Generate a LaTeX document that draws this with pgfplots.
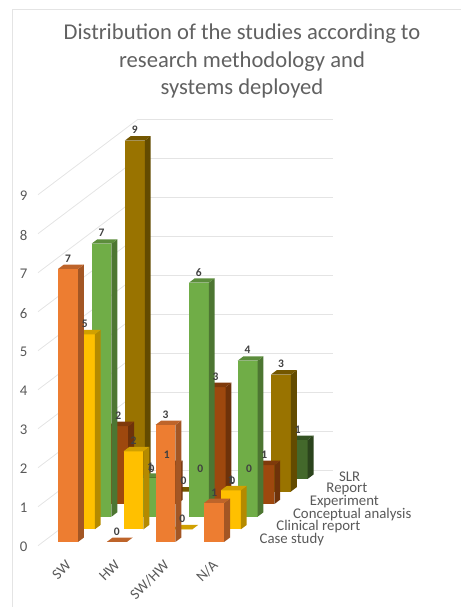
\documentclass[border=0pt]{standalone}
\usepackage{pgfplots}
\usepackage{pgfplotstable}
\usepackage{fontspec}
\setmainfont{Carlito}
\pgfplotsset{compat=1.18}

% Studies per system type (rows) and research methodology (columns)
\pgfplotstableread{
system SLR Report Experiment Conceptual Clinical Case
SW     0   9      2          7          5        7
HW     0   0      1          1          2        0
SWHW   0   0      3          6          0        3
NA     1   3      1          4          1        1
}\studies

% Front, side and top shades of each series
\definecolor{CaseF}{HTML}{ED7D31}\definecolor{CaseS}{HTML}{A35624}\definecolor{CaseT}{HTML}{BE642A}
\definecolor{ClinF}{HTML}{FFC000}\definecolor{ClinS}{HTML}{B48A00}\definecolor{ClinT}{HTML}{D1A000}
\definecolor{ConcF}{HTML}{70AD47}\definecolor{ConcS}{HTML}{4D7632}\definecolor{ConcT}{HTML}{5C8D3C}
\definecolor{ExpeF}{HTML}{9E480E}\definecolor{ExpeS}{HTML}{6E320A}\definecolor{ExpeT}{HTML}{7F3A0B}
\definecolor{RepoF}{HTML}{997300}\definecolor{RepoS}{HTML}{634B00}\definecolor{RepoT}{HTML}{745700}
\definecolor{SlrF}{HTML}{43682B}\definecolor{SlrS}{HTML}{2B431C}\definecolor{SlrT}{HTML}{345222}
\definecolor{labelgray}{HTML}{595959}
\definecolor{gridgray}{HTML}{E4E4E4}

% One cuboid: category index, depth row, table column, colour prefix
\newcommand{\cuboid}[4]{%
  \pgfplotstablegetelem{#1}{#3}\of\studies
  \let\val\pgfplotsretval
  \pgfmathsetmacro\xa{#1+0.31}\pgfmathsetmacro\xb{#1+0.72}%
  \pgfmathsetmacro\ya{#2+0.30}\pgfmathsetmacro\yb{#2+0.65}%
  \addplot3[draw=none,fill=#4F,mark=none,forget plot] coordinates
    {(\xa,\ya,0) (\xb,\ya,0) (\xb,\ya,\val) (\xa,\ya,\val)} --cycle;
  \addplot3[draw=none,fill=#4S,mark=none,forget plot] coordinates
    {(\xb,\ya,0) (\xb,\yb,0) (\xb,\yb,\val) (\xb,\ya,\val)} --cycle;
  \addplot3[draw=none,fill=#4T,mark=none,forget plot] coordinates
    {(\xa,\ya,\val) (\xb,\ya,\val) (\xb,\yb,\val) (\xa,\yb,\val)} --cycle;
}
% All four columns of a series
\newcommand{\series}[3]{%
  \cuboid{0}{#1}{#2}{#3}\cuboid{1}{#1}{#2}{#3}\cuboid{2}{#1}{#2}{#3}\cuboid{3}{#1}{#2}{#3}%
}
% Value labels of a series
\newcommand{\serieslabels}[2]{%
  \addplot3[draw=none,mark=none,forget plot,point meta=explicit,
    nodes near coords={\pgfmathprintnumber[assume math mode=true]{\pgfplotspointmeta}},
    every node near coord/.append style={anchor=center,yshift=10.5pt,inner sep=0pt,
      font=\fontsize{11.5}{12}\selectfont\bfseries,text=black!75}]
    table[x expr=\coordindex+0.515,y expr=#1+0.30,z=#2,meta=#2] {\studies};
}

\begin{document}
\begin{tikzpicture}
\path[use as bounding box] (0,0) rectangle (461pt,607pt);
\draw[gridgray,line width=0.8pt] (12pt,0) -- (12pt,598pt) -- (461pt,598pt);
\node[align=center,text=black!62,font=\fontsize{22.6}{27.7}\selectfont] at (242pt,546pt)
  {Distribution of the studies according to\\research methodology and\\systems deployed};
\begin{axis}[
  anchor=origin, at={(38pt,61.3pt)},
  x={(48.7pt,0pt)}, y={(16.7pt,12.6pt)}, z={(0pt,39pt)},
  xmin=0, xmax=4, ymin=0, ymax=6, zmin=0, zmax=9,
  clip=false,
  axis line style={draw=none},
  tick style={draw=none},
  xtick={0.5,1.5,2.5,3.5},
  xticklabels={SW,HW,SW/HW,N/A},
  ytick={0.5,1.5,2.5,3.5,4.5,5.5},
  yticklabels={Case study,Clinical report,Conceptual analysis,Experiment,Report,\kern-4pt SLR},
  ztick={0,1,...,9},
  zmajorgrids,
  major grid style={gridgray,line width=0.8pt},
  /pgf/number format/assume math mode=true,
  tick label style={text=labelgray,font=\fontsize{14.8}{16}\selectfont},
  xticklabel style={rotate=45,anchor=north east,xshift=-4pt,yshift=-8pt},
  yticklabel style={anchor=west,xshift=15pt},
  zticklabel style={xshift=-7pt,yshift=1pt},
]
\series{5}{SLR}{Slr}
\series{4}{Report}{Repo}
\series{3}{Experiment}{Expe}
\series{2}{Conceptual}{Conc}
\series{1}{Clinical}{Clin}
\series{0}{Case}{Case}
\serieslabels{5}{SLR}
\serieslabels{4}{Report}
\serieslabels{3}{Experiment}
\serieslabels{2}{Conceptual}
\serieslabels{1}{Clinical}
\serieslabels{0}{Case}
\end{axis}
\end{tikzpicture}
\end{document}
